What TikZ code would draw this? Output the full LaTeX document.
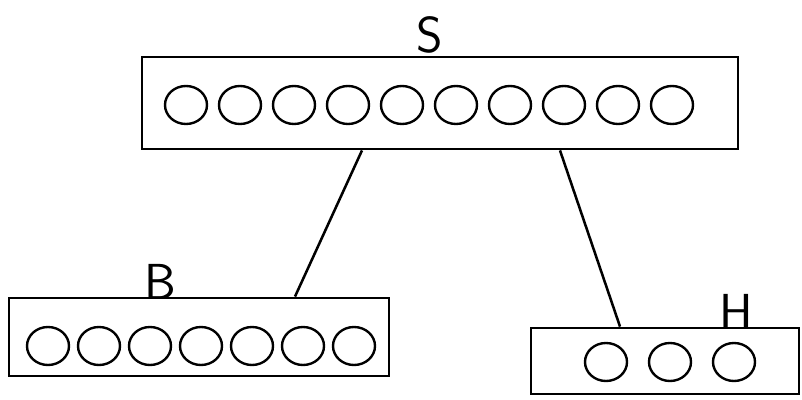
\documentclass[tikz,border=0pt]{standalone}
\usepackage{tikz}
\usetikzlibrary{shapes.geometric}

\begin{document}
\begin{tikzpicture}[
    x=0.025cm, y=-0.025cm,
    box/.style={
        rectangle,
        draw=black,
        line width=2pt,
        inner sep=0pt
    },
    unit/.style={
        ellipse,
        draw=black,
        line width=1.7pt,
        minimum width=1.05cm,
        minimum height=0.95cm,
        inner sep=0pt
    },
    label/.style={
        font=\sffamily\fontsize{36}{36}\selectfont,
        inner sep=0pt
    },
    link/.style={line width=1.8pt}
]
\useasboundingbox (0,0) rectangle (802,400);

% boxes
\node[box, minimum width=14.9cm, minimum height=2.3cm] (sbox) at (440,103) {};
\node[box, minimum width=9.5cm, minimum height=1.95cm] (bbox) at (199,337) {};
\node[box, minimum width=6.7cm, minimum height=1.65cm] (hbox) at (665,361) {};

% labels
\node[label] (slab) at (430,35) {S};
\node[label] (blab) at (160,282) {B};
\node[label] (hlab) at (736,312) {H};

% units
\foreach \i in {0,...,9}
    \node[unit] (s\i) at (186+54*\i,105) {};
\foreach \i in {0,...,6}
    \node[unit] (b\i) at (48+51*\i,346) {};
\foreach \i in {0,...,2}
    \node[unit] (h\i) at (606+64*\i,362) {};

% links
\coordinate (sl) at (sbox.south -| 362,0);
\coordinate (sr) at (sbox.south -| 560,0);
\coordinate (bt) at (bbox.north -| 295,0);
\coordinate (ht) at (hbox.north -| 620,0);
\draw[link] (sl) -- (bt);
\draw[link] (sr) -- (ht);

\end{tikzpicture}
\end{document}
